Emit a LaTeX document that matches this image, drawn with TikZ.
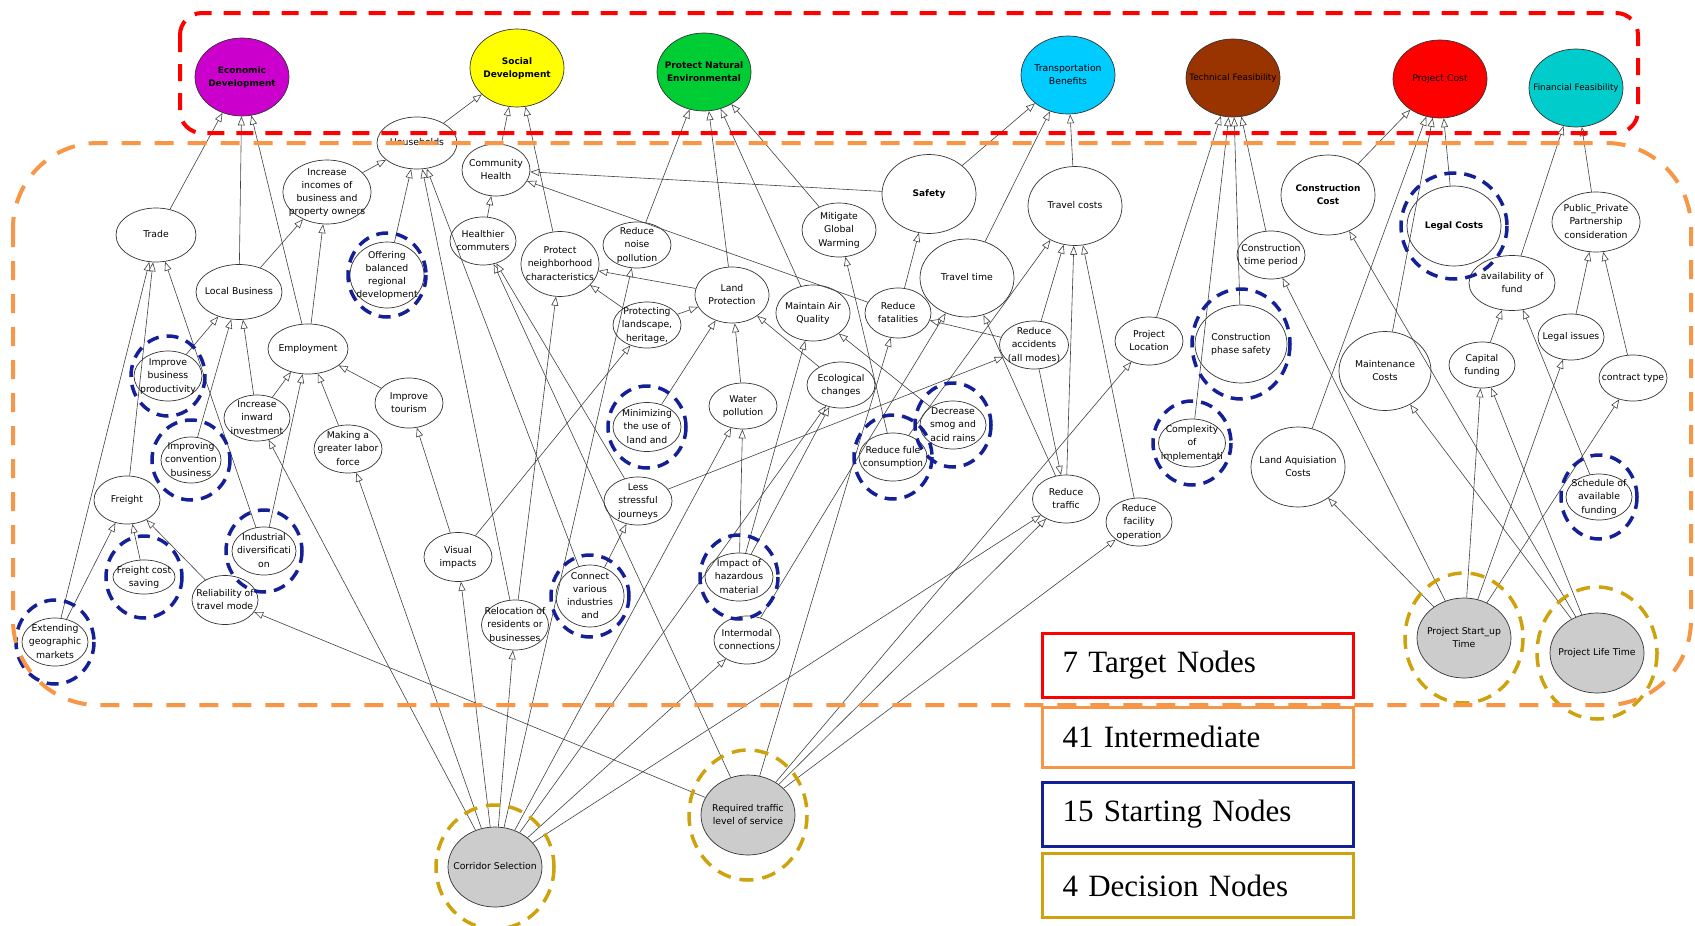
\documentclass[tikz,border=0pt]{standalone}
\usepackage{fontspec}
\setmainfont{Liberation Serif}
\setsansfont{DejaVu Sans}
\usetikzlibrary{shapes.geometric,arrows.meta}
\definecolor{edmag}{RGB}{204,0,204}
\definecolor{sdyel}{RGB}{255,255,0}
\definecolor{pnegreen}{RGB}{0,204,51}
\definecolor{tbcyan}{RGB}{0,204,255}
\definecolor{tfbrown}{RGB}{153,51,0}
\definecolor{pcred}{RGB}{255,0,0}
\definecolor{ffteal}{RGB}{0,204,204}
\definecolor{ringblue}{RGB}{20,32,150}
\definecolor{ringgold}{RGB}{205,162,12}
\definecolor{midorange}{RGB}{247,150,70}
\definecolor{decgray}{RGB}{204,204,204}
% zero-size centred label, so the ellipse keeps its own size
\newcommand{\nt}[1]{\smash{\makebox[0pt]{\raisebox{-2.5pt}{\begin{tabular}{@{}c@{}}#1\end{tabular}}}}}

\begin{document}
\begin{tikzpicture}[x=1pt,y=-1pt,
  every node/.style={font=\sffamily\fontsize{9.3}{13.2}\selectfont},
  heavy/.style={font=\sffamily\bfseries\fontsize{9}{13.2}\selectfont},
  tgt/.style={ellipse,draw=black!80,line width=0.7pt,inner sep=0pt,minimum width=94,minimum height=78,fill=#1},
  mid/.style 2 args={ellipse,draw=black!80,line width=0.7pt,fill=white,inner sep=0pt,minimum width=#1,minimum height=#2},
  dec/.style={ellipse,draw=black!80,line width=0.7pt,fill=decgray,inner sep=0pt,minimum width=94,minimum height=80},
  bring/.style={draw=ringblue,line width=3.5pt,dash pattern=on 12pt off 8pt},
  gring/.style={draw=ringgold,line width=3.5pt,dash pattern=on 14pt off 9pt},
  arr/.style={draw=black!75,line width=0.6pt,-{Triangle[length=9pt,width=7pt,fill=white]}},
  legbox/.style={rectangle,line width=3pt,minimum width=311,minimum height=64,text width=270,align=left,inner sep=0pt,font=\rmfamily\fontsize{31}{36}\selectfont}]
  \useasboundingbox (0,0) rectangle (1695,926);

  % target nodes
  \node[tgt=edmag,heavy] (ed) at (242,77) {\nt{Economic\\Development}};
  \node[tgt=sdyel,heavy] (sd) at (517,68) {\nt{Social\\Development}};
  \node[tgt=pnegreen,heavy] (pne) at (704,72) {\nt{Protect Natural\\Environmental}};
  \node[tgt=tbcyan] (tb) at (1068,75) {\nt{Transportation\\Benefits}};
  \node[tgt=tfbrown,font=\sffamily\fontsize{8.8}{13}\selectfont] (tf) at (1233,78) {\nt{Technical Feasibility}};
  \node[tgt=pcred] (pc) at (1440,79) {\nt{Project Cost}};
  \node[tgt=ffteal,font=\sffamily\fontsize{8.8}{13}\selectfont] (ff) at (1576,88) {\nt{Financial Feasibility}};

  % intermediate and starting nodes
  \node[mid={80}{52}] (hh) at (417,143) {\nt{Households}};
  \node[mid={88}{64}] (inc) at (327,192) {\nt{Increase\\incomes of\\business and\\property owners}};
  \node[mid={80}{54}] (trade) at (156,235) {\nt{Trade}};
  \node[mid={86}{55}] (lb) at (239,292) {\nt{Local Business}};
  \node[mid={74}{66}] (obr) at (387,275) {\nt{Offering\\balanced\\regional\\development}};
  \node[mid={68}{52}] (ch) at (496,170) {\nt{Community\\Health}};
  \node[mid={66}{48}] (hc) at (483,241) {\nt{Healthier\\commuters}};
  \node[mid={78}{65}] (pnc) at (560,264) {\nt{Protect\\neighborhood\\characteristics}};
  \node[mid={68}{46}] (rnp) at (637,245) {\nt{Reduce\\noise\\pollution}};
  \node[mid={74}{56}] (lp) at (732,295) {\nt{Land\\Protection}};
  \node[mid={74}{54}] (mgw) at (839,230) {\nt{Mitigate\\Global\\Warming}};
  \node[mid={74}{56}] (maq) at (813,313) {\nt{Maintain Air\\Quality}};
  \node[mid={94}{79},heavy] (safety) at (929,194) {\nt{Safety}};
  \node[mid={94}{79}] (tc) at (1075,206) {\nt{Travel costs}};
  \node[mid={94}{78}] (tt) at (967,278) {\nt{Travel time}};
  \node[mid={66}{50}] (rf) at (898,313) {\nt{Reduce\\fatalities}};
  \node[mid={68}{48}] (ctp) at (1271,255) {\nt{Construction\\time period}};
  \node[mid={94}{80},heavy] (cc) at (1328,195) {\nt{Construction\\Cost}};
  \node[mid={94}{80},heavy] (lc) at (1454,226) {\nt{Legal Costs}};
  \node[mid={86}{55}] (aof) at (1512,283) {\nt{availability of\\fund}};
  \node[mid={88}{60}] (ppp) at (1596,222) {\nt{Public\_Private\\Partnership\\consideration}};
  \node[mid={68}{50}] (ibp) at (168,376) {\nt{Improve\\business\\productivity}};
  \node[mid={66}{46}] (iii) at (257,418) {\nt{Increase\\inward\\investment}};
  \node[mid={80}{50}] (emp) at (308,349) {\nt{Employment}};
  \node[mid={68}{50}] (it) at (409,403) {\nt{Improve\\tourism}};
  \node[mid={60}{46}] (icb) at (191,460) {\nt{Improving\\convention\\business}};
  \node[mid={68}{48}] (mgl) at (348,449) {\nt{Making a\\greater labor\\force}};
  \node[mid={66}{48}] (fr) at (127,500) {\nt{Freight}};
  \node[mid={64}{48}] (ind) at (264,551) {\nt{Industrial\\diversificati\\on}};
  \node[mid={62}{34}] (fcs) at (144,577) {\nt{Freight cost\\saving}};
  \node[mid={66}{49}] (rtm) at (225,600) {\nt{Reliability of\\travel mode}};
  \node[mid={66}{48}] (egm) at (55,642) {\nt{Extending\\geographic\\markets}};
  \node[mid={68}{46}] (pl) at (647,325) {\nt{Protecting\\landscape,\\heritage,}};
  \node[mid={68}{46}] (ecc) at (841,385) {\nt{Ecological\\changes}};
  \node[mid={68}{49}] (mul) at (647,427) {\nt{Minimizing\\the use of\\land and}};
  \node[mid={68}{46}] (wp) at (743,406) {\nt{Water\\pollution}};
  \node[mid={68}{48}] (lsj) at (638,501) {\nt{Less\\stressful\\journeys}};
  \node[mid={68}{49}] (vi) at (458,557) {\nt{Visual\\impacts}};
  \node[mid={68}{62}] (cvi) at (590,596) {\nt{Connect\\various\\industries\\and}};
  \node[mid={68}{48}] (ihm) at (739,577) {\nt{Impact of\\hazardous\\material}};
  \node[mid={67}{50}] (rel) at (515,625) {\nt{Relocation of\\residents or\\businesses}};
  \node[mid={66}{48}] (imc) at (747,640) {\nt{Intermodal\\connections}};
  \node[mid={69}{48}] (ra) at (1034,345) {\nt{Reduce\\accidents\\(all modes)}};
  \node[mid={68}{48}] (ploc) at (1149,341) {\nt{Project\\Location}};
  \node[mid={92}{78}] (cps) at (1241,344) {\nt{Construction\\phase safety}};
  \node[mid={66}{48}] (dsa) at (953,425) {\nt{Decrease\\smog and\\acid rains}};
  \node[mid={68}{48}] (rfc) at (893,457) {\nt{Reduce fule\\consumption}};
  \node[mid={67}{48}] (cim) at (1192,443) {\nt{Complexity\\of\\implementati}};
  \node[mid={67}{48}] (rt) at (1066,499) {\nt{Reduce\\traffic}};
  \node[mid={66}{48}] (rfo) at (1139,522) {\nt{Reduce\\facility\\operation}};
  \node[mid={94}{80}] (lac) at (1298,467) {\nt{Land Aquisiation\\Costs}};
  \node[mid={92}{79}] (mc) at (1385,371) {\nt{Maintenance\\Costs}};
  \node[mid={66}{46}] (cf) at (1482,365) {\nt{Capital\\funding}};
  \node[mid={66}{46}] (li) at (1571,337) {\nt{Legal issues}};
  \node[mid={68}{46}] (ct) at (1633,378) {\nt{contract type}};
  \node[mid={66}{46}] (saf) at (1599,497) {\nt{Schedule of\\available\\funding}};

  % decision nodes
  \node[dec] (cs) at (495,867) {\nt{Corridor Selection}};
  \node[dec] (rtl) at (748,815) {\nt{Required traffic\\level of service}};
  \node[dec] (psu) at (1464,638) {\nt{Project Start\_up\\Time}};
  \node[dec] (plt) at (1597,653) {\nt{Project Life Time}};

  % influences
  \draw[arr] (trade) -- (ed); \draw[arr] (lb) -- (ed); \draw[arr] (emp) -- (ed);
  \draw[arr] (inc) -- (hh); \draw[arr] (lb) -- (inc); \draw[arr] (emp) -- (inc);
  \draw[arr] (obr) -- (hh); \draw[arr] (rel) -- (hh); \draw[arr] (cvi) -- (hh);
  \draw[arr] (hh) -- (sd); \draw[arr] (ch) -- (sd); \draw[arr] (pnc) -- (sd);
  \draw[arr] (hc) -- (ch); \draw[arr] (safety) -- (ch); \draw[arr] (rf) -- (ch);
  \draw[arr] (rnp) -- (pne); \draw[arr] (lp) -- (pne); \draw[arr] (maq) -- (pne); \draw[arr] (mgw) -- (pne);
  \draw[arr] (lp) -- (pnc); \draw[arr] (pl) -- (pnc); \draw[arr] (pl) -- (lp); \draw[arr] (rel) -- (pnc);
  \draw[arr] (rtl) -- (hc); \draw[arr] (lsj) -- (hc);
  \draw[arr] (egm) -- (trade); \draw[arr] (fr) -- (trade); \draw[arr] (ind) -- (trade);
  \draw[arr] (egm) -- (fr); \draw[arr] (fcs) -- (fr); \draw[arr] (rtm) -- (fr);
  \draw[arr] (ibp) -- (lb); \draw[arr] (icb) -- (lb); \draw[arr] (iii) -- (lb);
  \draw[arr] (iii) -- (emp); \draw[arr] (ind) -- (emp); \draw[arr] (mgl) -- (emp); \draw[arr] (it) -- (emp);
  \draw[arr] (vi) -- (it); \draw[arr] (vi) -- (pl);
  \draw[arr] (cs) -- (vi); \draw[arr] (cs) -- (iii); \draw[arr] (cs) -- (mgl); \draw[arr] (cs) -- (rel);
  \draw[arr] (cs) -- (rnp); \draw[arr] (cs) -- (wp); \draw[arr] (cs) -- (ecc); \draw[arr] (cs) -- (rt);
  \draw[arr] (cs) -- (imc);
  \draw[arr] (rtl) -- (rtm); \draw[arr] (cvi) -- (lsj); \draw[arr] (lsj) -- (ra);
  \draw[arr] (mul) -- (lp); \draw[arr] (wp) -- (lp); \draw[arr] (ecc) -- (lp);
  \draw[arr] (ihm) -- (wp); \draw[arr] (ihm) -- (maq); \draw[arr] (ihm) -- (ecc);
  \draw[arr] (tt) -- (tb); \draw[arr] (safety) -- (tb); \draw[arr] (tc) -- (tb);
  \draw[arr] (rf) -- (safety);
  \draw[arr] (rfc) -- (tc); \draw[arr] (ra) -- (tc); \draw[arr] (rt) -- (tc); \draw[arr] (rfo) -- (tc);
  \draw[arr] (ra) -- (rf); \draw[arr] (rt) -- (tt); \draw[arr] (ra) -- (rt); \draw[arr] (imc) -- (tt);
  \draw[arr] (rtl) -- (rf); \draw[arr] (rtl) -- (rt); \draw[arr] (rtl) -- (ploc); \draw[arr] (rtl) -- (rfo);
  \draw[arr] (rfc) -- (mgw); \draw[arr] (dsa) -- (maq);
  \draw[arr] (ploc) -- (tf); \draw[arr] (cim) -- (tf); \draw[arr] (cps) -- (tf); \draw[arr] (ctp) -- (tf);
  \draw[arr] (cc) -- (pc); \draw[arr] (lac) -- (pc); \draw[arr] (mc) -- (pc); \draw[arr] (lc) -- (pc);
  \draw[arr] (aof) -- (ff); \draw[arr] (ppp) -- (ff);
  \draw[arr] (li) -- (ppp); \draw[arr] (ct) -- (ppp);
  \draw[arr] (cf) -- (aof); \draw[arr] (saf) -- (aof);
  \draw[arr] (psu) -- (lac); \draw[arr] (psu) -- (ctp); \draw[arr] (psu) -- (cf); \draw[arr] (psu) -- (li); \draw[arr] (psu) -- (ct);
  \draw[arr] (plt) -- (cc); \draw[arr] (plt) -- (mc); \draw[arr] (plt) -- (cf);

  % starting-node rings
  \draw[bring] (obr.center) ellipse [x radius=39, y radius=42];
  \draw[bring] (lc.center) ellipse [x radius=53, y radius=53];
  \draw[bring] (ibp.center) ellipse [x radius=37, y radius=40];
  \draw[bring] (icb.center) ellipse [x radius=39, y radius=40];
  \draw[bring] (ind.center) ellipse [x radius=38, y radius=41];
  \draw[bring] (fcs.center) ellipse [x radius=38, y radius=41];
  \draw[bring] (egm.center) ellipse [x radius=39, y radius=42];
  \draw[bring] (mul.center) ellipse [x radius=39, y radius=41];
  \draw[bring] (cvi.center) ellipse [x radius=39, y radius=41];
  \draw[bring] (ihm.center) ellipse [x radius=39, y radius=42];
  \draw[bring] (cps.center) ellipse [x radius=49, y radius=55];
  \draw[bring] (dsa.center) ellipse [x radius=38, y radius=42];
  \draw[bring] (rfc.center) ellipse [x radius=39, y radius=42];
  \draw[bring] (cim.center) ellipse [x radius=39, y radius=42];
  \draw[bring] (saf.center) ellipse [x radius=38, y radius=42];

  % decision-node rings
  \draw[gring] (cs.center) ellipse [x radius=59, y radius=62];
  \draw[gring] (rtl.center) ellipse [x radius=59, y radius=65];
  \draw[gring] (psu.center) ellipse [x radius=59, y radius=65];
  \draw[gring] (plt.center) ellipse [x radius=60, y radius=66];

  % group frames
  \draw[pcred,line width=4pt,dash pattern=on 17pt off 12pt,rounded corners=22] (180,13) rectangle (1638,133);
  \draw[midorange,line width=4pt,dash pattern=on 19pt off 14pt,rounded corners=85] (13,143) rectangle (1691,705);

  % legend
  \node[legbox,draw=pcred] (ltgt) at (1197.5,665.5) {7 Target Nodes};
  \node[legbox,draw=midorange,minimum height=60] (lmid) at (1197.5,737) {41 Intermediate};
  \node[legbox,draw=ringblue] (lstart) at (1197.5,814) {15 Starting Nodes};
  \node[legbox,draw=ringgold] (ldec) at (1197.5,885.5) {4 Decision Nodes};
\end{tikzpicture}
\end{document}
